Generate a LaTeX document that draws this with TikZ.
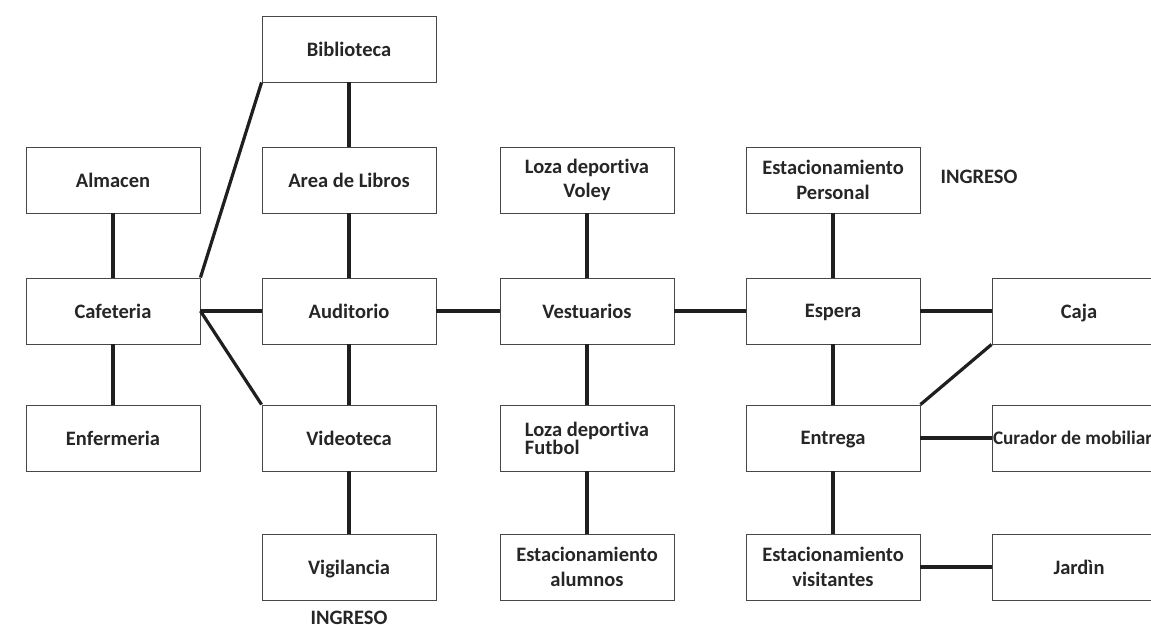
\documentclass[tikz,border=0pt]{standalone}
\usepackage{fontspec}
\setmainfont{Carlito}[Ligatures=NoCommon]
\begin{document}
\begin{tikzpicture}[x=1pt,y=-1pt,
  box/.style={draw=black!72,line width=0.9pt,minimum width=174pt,minimum height=66pt,
    inner sep=0pt,align=center,text=black!85,font=\fontsize{20.5}{24.5}\selectfont\bfseries},
  one/.style={text depth=0pt},
  conn/.style={line width=3.2pt,draw=black!88},
  lbl/.style={inner sep=0pt,text=black!85,font=\fontsize{20.5}{24.5}\selectfont\bfseries}]
\useasboundingbox (0,0) rectangle (1151,624);
\fill[white] (0,0) rectangle (1151,624);
% column 1
\node[box,one] (alm) at (113,180) {Almacen};
\node[box,one] (caf) at (113,311) {Cafeteria};
\node[box,one] (enf) at (113,438) {Enfermeria};
% column 2
\node[box,one] (bib) at (349,49) {Biblioteca};
\node[box,one] (are) at (349,180) {Area de Libros};
\node[box,one] (aud) at (349,311) {Auditorio};
\node[box,one] (vid) at (349,438) {Videoteca};
\node[box,one] (vig) at (349,567) {Vigilancia};
\node[lbl] (ing1) at (349,618) {INGRESO};
% column 3
\node[box] (vol) at (587,180) {Loza deportiva\\Voley};
\node[box,one] (ves) at (587,311) {Vestuarios};
\node[box,align=left,font=\fontsize{20.5}{18}\selectfont\bfseries] (fut) at (587,438) {Loza deportiva\\Futbol};
\node[box] (alu) at (587,567) {Estacionamiento\\alumnos};
% column 4
\node[box] (per) at (833,180) {Estacionamiento\\Personal};
\node[lbl] (ing2) at (979,177) {INGRESO};
\node[box,one] (esp) at (833,311) {Espera};
\node[box,one] (ent) at (833,438) {Entrega};
\node[box] (vis) at (833,567) {Estacionamiento\\visitantes};
% column 5
\node[box,one] (caj) at (1079,311) {Caja};
\node[box,one,font=\fontsize{19.2}{23}\selectfont\bfseries] (cur) at (1079,438) {\makebox[174pt][l]{\hspace*{1pt}Curador de mobiliario}};
\node[box,one] (jar) at (1079,567) {Jardìn};
% connectors
\draw[conn] (alm) -- (caf);
\draw[conn] (caf) -- (enf);
\draw[conn] (caf.north east) -- (bib.south west);
\draw[conn] (caf.east) -- (aud.west);
\draw[conn] (caf.east) -- (vid.north west);
\draw[conn] (bib) -- (are);
\draw[conn] (are) -- (aud);
\draw[conn] (aud) -- (vid);
\draw[conn] (vid) -- (vig);
\draw[conn] (aud) -- (ves);
\draw[conn] (vol) -- (ves);
\draw[conn] (ves) -- (fut);
\draw[conn] (fut) -- (alu);
\draw[conn] (ves) -- (esp);
\draw[conn] (per) -- (esp);
\draw[conn] (esp) -- (caj);
\draw[conn] (esp) -- (ent);
\draw[conn] (ent.north east) -- (caj.south west);
\draw[conn] (ent) -- (cur);
\draw[conn] (ent) -- (vis);
\draw[conn] (vis) -- (jar);
\end{tikzpicture}
\end{document}
